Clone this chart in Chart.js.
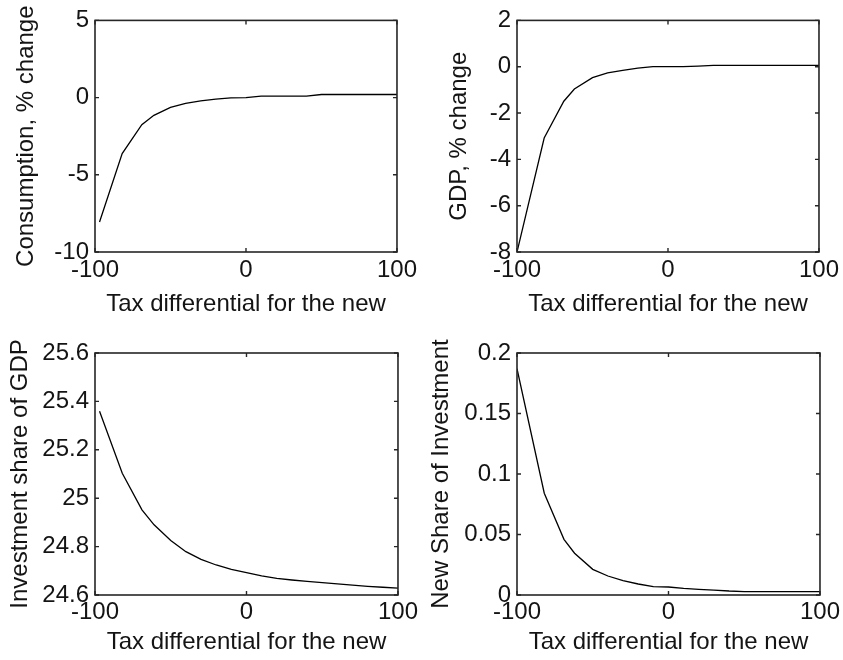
<!DOCTYPE html>
<html><head><meta charset="utf-8">
<script src="https://cdn.jsdelivr.net/npm/chart.js@4.4.1/dist/chart.umd.min.js"></script>
<style>
html,body{margin:0;padding:0;background:#fff;}
#wrap{position:relative;width:843px;height:660px;background:#fff;}
canvas{position:absolute;}
</style></head><body>
<div id="wrap">
<canvas id="c1" width="421" height="330" style="left:0;top:0"></canvas>
<canvas id="c2" width="422" height="330" style="left:421px;top:0"></canvas>
<canvas id="c3" width="421" height="330" style="left:0;top:330px"></canvas>
<canvas id="c4" width="422" height="330" style="left:421px;top:330px"></canvas>
</div>
<script>
// x values (tax differential for the new)
const xLeft  = [-97, -82, -69, -61, -50, -40, -30, -20, -10, 0, 10, 20, 30, 40, 50, 60, 70, 80, 90, 100];
const xRight = [-100, -82, -69, -62, -50, -40, -30, -20, -10, 0, 10, 20, 30, 40, 50, 60, 70, 80, 90, 100];
// series
const consumption   = [-8.06, -3.63, -1.75, -1.15, -0.63, -0.37, -0.21, -0.10, -0.02, 0.0, 0.1, 0.1, 0.1, 0.1, 0.2, 0.2, 0.2, 0.2, 0.2, 0.2];
const gdp           = [-8.0, -3.08, -1.49, -0.96, -0.47, -0.27, -0.16, -0.06, 0.0, 0.0, 0.0, 0.03, 0.06, 0.06, 0.06, 0.06, 0.06, 0.06, 0.06, 0.06];
const investShare   = [25.359, 25.103, 24.952, 24.890, 24.825, 24.779, 24.747, 24.724, 24.706, 24.692, 24.679, 24.669, 24.662, 24.656, 24.651, 24.646, 24.641, 24.636, 24.632, 24.628];
const newShare      = [0.187, 0.0841, 0.046, 0.0345, 0.0212, 0.0157, 0.0119, 0.0091, 0.0069, 0.0066, 0.0055, 0.0047, 0.0041, 0.0033, 0.0028, 0.0028, 0.0028, 0.0028, 0.0028, 0.0028];
// ticks
const xTicks = [-100, 0, 100];
const xTickLabels = ['-100', '0', '100'];
const yTicksC = [-10, -5, 0, 5];
const yTickLabelsC = ['-10', '-5', '0', '5'];
const yTicksG = [-8, -6, -4, -2, 0, 2];
const yTickLabelsG = ['-8', '-6', '-4', '-2', '0', '2'];
const yTicksI = [24.6, 24.8, 25, 25.2, 25.4, 25.6];
const yTickLabelsI = ['24.6', '24.8', '25', '25.2', '25.4', '25.6'];
const yTicksN = [0, 0.05, 0.1, 0.15, 0.2];
const yTickLabelsN = ['0', '0.05', '0.1', '0.15', '0.2'];
// titles
const xTitle = 'Tax differential for the new';
const yTitles = ['Consumption, % change', 'GDP, % change', 'Investment share of GDP', 'New Share of Investment'];

const FONT = "'Liberation Sans', Arial, Helvetica, sans-serif";
const TXT = '#141414';
const FS = 24;

const boxPlugin = {
  id: 'box',
  afterDraw(chart) {
    const {ctx, chartArea: a, scales: {x, y}} = chart;
    ctx.save();
    ctx.strokeStyle = '#262626';
    ctx.lineWidth = 1.4;
    const t = 4;
    ctx.beginPath();
    x.ticks.forEach(tk => {
      const px = x.getPixelForValue(tk.value);
      ctx.moveTo(px, a.bottom); ctx.lineTo(px, a.bottom - t);
      ctx.moveTo(px, a.top); ctx.lineTo(px, a.top + t);
    });
    y.ticks.forEach(tk => {
      const py = y.getPixelForValue(tk.value);
      ctx.moveTo(a.left, py); ctx.lineTo(a.left + t, py);
      ctx.moveTo(a.right, py); ctx.lineTo(a.right - t, py);
    });
    ctx.stroke();
    ctx.lineWidth = 1.6;
    ctx.strokeRect(a.left, a.top, a.right - a.left, a.bottom - a.top);
    ctx.restore();
  }
};

function makeChart(id, xs, ys, yT, yL, yTitle, cfg) {
  const data = xs.map((v, i) => ({x: v, y: ys[i]}));
  return new Chart(document.getElementById(id), {
    type: 'line',
    data: {datasets: [{data, borderColor: '#000', borderWidth: 1.3, pointRadius: 0, tension: 0, fill: false}]},
    options: {
      responsive: false, animation: false,
      layout: {padding: {left: 0, right: cfg.padRight, top: cfg.padTop, bottom: 0}},
      plugins: {legend: {display: false}, tooltip: {enabled: false}},
      scales: {
        x: {
          type: 'linear', min: xTicks[0], max: xTicks[xTicks.length - 1],
          afterBuildTicks: s => { s.ticks = xTicks.map(v => ({value: v})); },
          afterFit: s => { s.height = cfg.xH; },
          grid: {display: false, drawTicks: false},
          border: {display: false},
          ticks: {
            autoSkip: false, maxRotation: 0, padding: cfg.xTickPad, color: TXT,
            font: {family: FONT, size: FS},
            callback: v => xTickLabels[xTicks.indexOf(v)]
          },
          title: {display: true, text: xTitle, color: TXT, font: {family: FONT, size: FS},
                  padding: {top: 0, bottom: cfg.xTitlePad}}
        },
        y: {
          type: 'linear', min: yT[0], max: yT[yT.length - 1],
          afterBuildTicks: s => { s.ticks = yT.map(v => ({value: v})); },
          afterFit: s => { s.width = cfg.yW; },
          grid: {display: false, drawTicks: false},
          border: {display: false},
          ticks: {
            autoSkip: false, padding: 6, color: TXT,
            font: {family: FONT, size: FS},
            callback: v => { const i = yT.findIndex(t => Math.abs(t - v) < 1e-9); return i >= 0 ? yL[i] : ''; }
          },
          title: {display: true, text: yTitle, color: TXT, font: {family: FONT, size: FS},
                  padding: {top: cfg.yTitlePad, bottom: 0}}
        }
      }
    },
    plugins: [boxPlugin]
  });
}

makeChart('c1', xLeft, consumption, yTicksC, yTickLabelsC, yTitles[0],
  {padRight: 23, padTop: 13, xH: 78, yW: 95, xTickPad: 4, xTitlePad: 11, yTitlePad: 12});
makeChart('c2', xRight, gdp, yTicksG, yTickLabelsG, yTitles[1],
  {padRight: 22, padTop: 13, xH: 78, yW: 96, xTickPad: 4, xTitlePad: 11, yTitlePad: 24});
makeChart('c3', xLeft, investShare, yTicksI, yTickLabelsI, yTitles[2],
  {padRight: 23, padTop: 23, xH: 65, yW: 95, xTickPad: 3, xTitlePad: 3, yTitlePad: 6});
makeChart('c4', xRight, newShare, yTicksN, yTickLabelsN, yTitles[3],
  {padRight: 22, padTop: 23, xH: 65, yW: 96, xTickPad: 3, xTitlePad: 3, yTitlePad: 6});
</script>
</body></html>
